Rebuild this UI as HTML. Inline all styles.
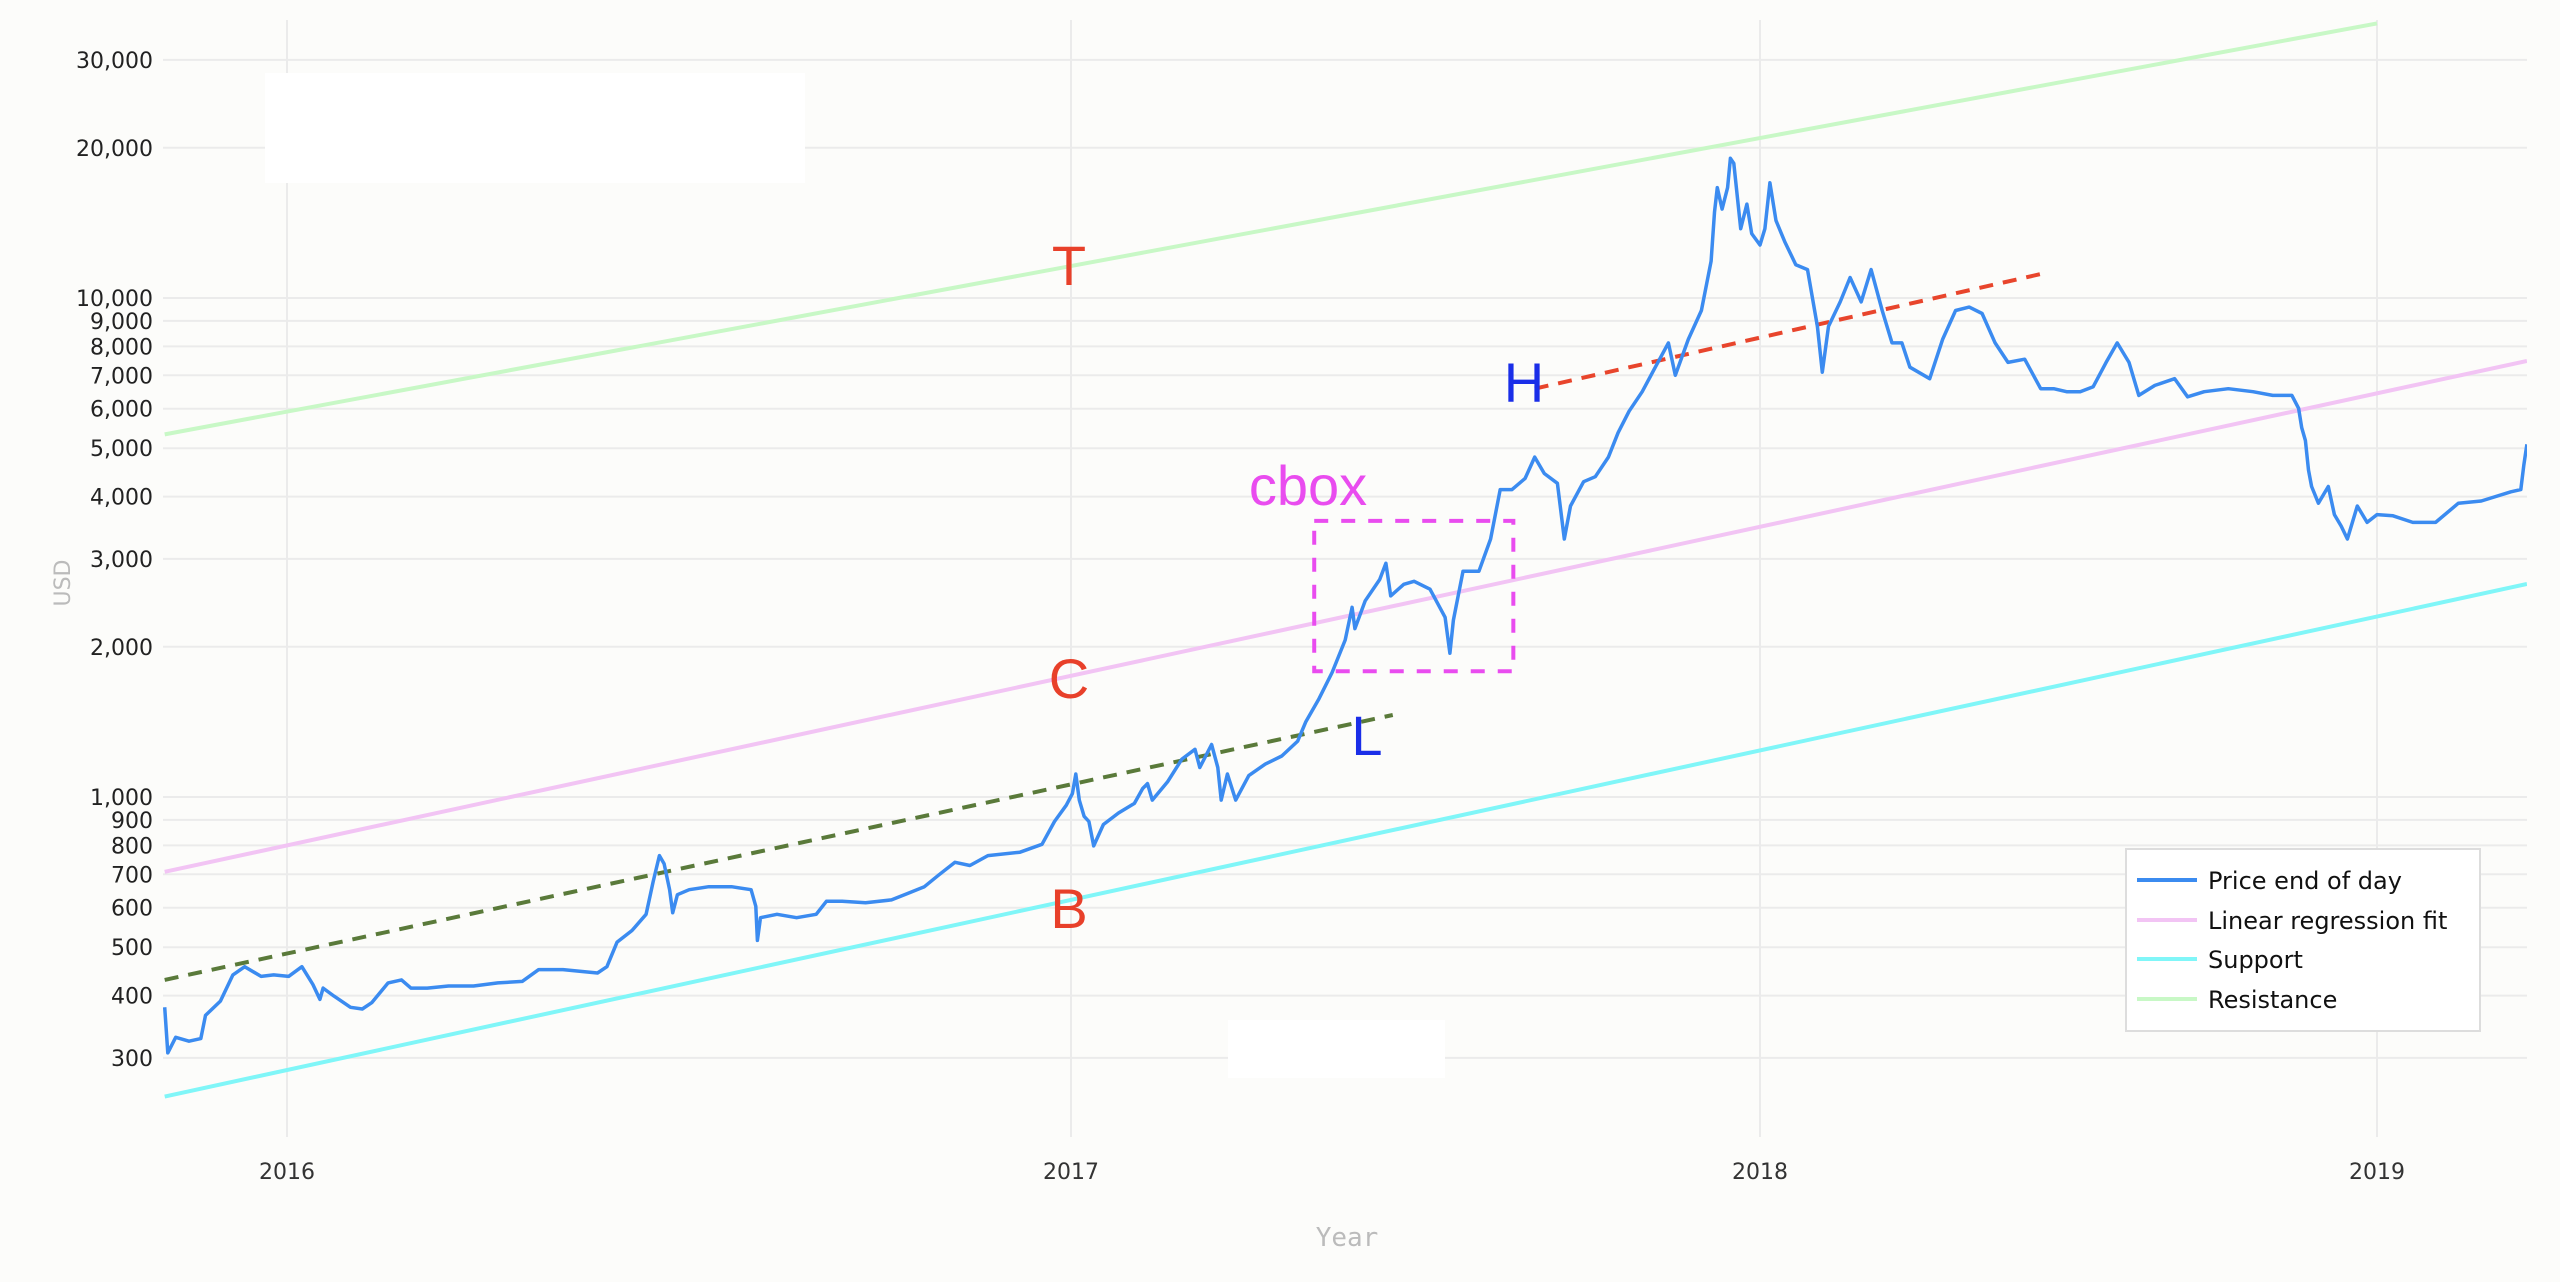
<!DOCTYPE html>
<html><head><meta charset="utf-8"><style>
html,body{margin:0;padding:0;background:#fcfcfa;}
svg{display:block;}
</style></head><body>
<svg id="chart" width="2560" height="1282" viewBox="0 0 2560 1282" xmlns="http://www.w3.org/2000/svg">
<rect x="0" y="0" width="2560" height="1282" fill="#fcfcfa"/>
<defs><clipPath id="plotclip"><rect x="163" y="20" width="2364" height="1117"/></clipPath></defs>
<g id="grid"></g>
<rect x="265" y="73" width="540" height="110" fill="#ffffff"/>
<rect x="1228" y="1020" width="217" height="58" fill="#ffffff"/>
<g id="ylabels"></g>
<g id="xlabels"></g>
<g id="marks" clip-path="url(#plotclip)"></g>
<g id="annot"></g>
<text x="70" y="583" transform="rotate(-90 70 583)" text-anchor="middle" font-family="DejaVu Sans, sans-serif" font-size="22" fill="#bbbbbb">USD</text>
<text x="1347" y="1246" text-anchor="middle" font-family="DejaVu Sans Mono, Liberation Mono, monospace" font-size="26" fill="#bbbbbb">Year</text>
<g>
<rect x="2126" y="849" width="354" height="182" fill="#ffffff" stroke="#dddddd" stroke-width="2"/>
<g><line x1="2137" y1="880" x2="2197" y2="880" stroke="#3b8bf0" stroke-width="4"/><text x="2208" y="889" font-family="DejaVu Sans, sans-serif" font-size="24" fill="#111">Price end of day</text></g>
<g><line x1="2137" y1="920" x2="2197" y2="920" stroke="#f2c4f4" stroke-width="4"/><text x="2208" y="929" font-family="DejaVu Sans, sans-serif" font-size="24" fill="#111">Linear regression fit</text></g>
<g><line x1="2137" y1="959" x2="2197" y2="959" stroke="#80f6f8" stroke-width="4"/><text x="2208" y="968" font-family="DejaVu Sans, sans-serif" font-size="24" fill="#111">Support</text></g>
<g><line x1="2137" y1="999" x2="2197" y2="999" stroke="#c8f8c6" stroke-width="4"/><text x="2208" y="1008" font-family="DejaVu Sans, sans-serif" font-size="24" fill="#111">Resistance</text></g>
</g>
</svg>
<script>
const yTicks = [300,400,500,600,700,800,900,1000,2000,3000,4000,5000,6000,7000,8000,9000,10000,20000,30000];
const yearTicks = [2016,2017,2018,2019];
const yearPix = [287,1071,1760,2377];
const priceYears = [2015.844,2015.848,2015.858,2015.875,2015.890,2015.896,2015.915,2015.931,2015.946,2015.967,2015.983,2016.002,2016.019,2016.033,2016.042,2016.046,2016.060,2016.081,2016.096,2016.108,2016.129,2016.146,2016.158,2016.179,2016.206,2016.238,2016.269,2016.300,2016.321,2016.352,2016.396,2016.408,2016.421,2016.440,2016.458,2016.467,2016.475,2016.481,2016.488,2016.492,2016.498,2016.513,2016.538,2016.567,2016.592,2016.598,2016.600,2016.604,2016.625,2016.650,2016.675,2016.688,2016.708,2016.738,2016.771,2016.792,2016.813,2016.831,2016.852,2016.871,2016.894,2016.935,2016.963,2016.979,2016.994,2017.002,2017.007,2017.012,2017.019,2017.026,2017.033,2017.047,2017.069,2017.092,2017.104,2017.111,2017.118,2017.140,2017.161,2017.180,2017.187,2017.204,2017.213,2017.218,2017.227,2017.239,2017.258,2017.282,2017.306,2017.329,2017.341,2017.360,2017.379,2017.398,2017.408,2017.412,2017.427,2017.448,2017.457,2017.464,2017.483,2017.498,2017.521,2017.543,2017.550,2017.555,2017.569,2017.592,2017.609,2017.623,2017.640,2017.659,2017.673,2017.687,2017.706,2017.716,2017.725,2017.744,2017.761,2017.780,2017.794,2017.810,2017.829,2017.848,2017.867,2017.877,2017.896,2017.915,2017.929,2017.934,2017.938,2017.945,2017.953,2017.957,2017.962,2017.972,2017.981,2017.988,2018.000,2018.008,2018.016,2018.026,2018.040,2018.058,2018.077,2018.093,2018.101,2018.111,2018.130,2018.146,2018.164,2018.180,2018.198,2018.214,2018.230,2018.243,2018.275,2018.296,2018.317,2018.339,2018.360,2018.381,2018.402,2018.429,2018.455,2018.476,2018.497,2018.519,2018.540,2018.561,2018.579,2018.598,2018.614,2018.640,2018.672,2018.693,2018.720,2018.759,2018.799,2018.831,2018.862,2018.873,2018.878,2018.884,2018.889,2018.894,2018.905,2018.921,2018.931,2018.942,2018.952,2018.968,2018.984,2019.000,2019.026,2019.058,2019.095,2019.132,2019.169,2019.217,2019.233,2019.238,2019.243];
const priceValues = [379,307,330,324,328,365,390,440,457,437,440,437,457,421,393,414,399,379,376,387,424,430,414,414,418,418,424,427,451,451,444,457,512,540,582,676,763,735,652,586,637,652,661,661,652,604,516,573,582,573,582,618,618,614,622,641,661,697,740,729,763,775,804,893,963,1016,1112,986,915,893,798,881,929,971,1040,1064,986,1072,1191,1246,1146,1274,1146,986,1112,986,1104,1164,1208,1294,1416,1574,1776,2064,2400,2175,2473,2728,2940,2529,2668,2706,2609,2292,1941,2262,2833,2833,3289,4130,4130,4350,4800,4450,4252,3289,3830,4285,4385,4800,5370,5930,6490,7265,8130,7000,8260,9440,11850,14860,16640,15070,16640,19050,18620,13770,15420,13460,12770,13770,17020,14290,12970,11660,11400,8770,7100,8770,9820,10990,9820,11400,9440,8130,8130,7265,6890,8260,9440,9590,9310,8130,7430,7540,6580,6580,6490,6490,6640,7430,8130,7430,6380,6680,6890,6340,6490,6580,6490,6380,6380,6010,5500,5180,4520,4190,3880,4190,3680,3490,3289,3830,3550,3680,3660,3550,3550,3880,3920,4090,4130,4620,5090];
// straight lines: [startYear, startValue, endYear, endValue]
const resistanceLine = [2015.844, 5330, 2019.0, 35500];
const regressionLine = [2015.844, 708, 2019.243, 7480];
const supportLine = [2015.844, 251, 2019.243, 2672];
const lowTrendLine = [2015.844, 430, 2017.467, 1460];
const highTrendLine = [2017.673, 6580, 2018.455, 11170];
const cboxRange = [2017.353, 3575, 2017.642, 1787];

const NS = 'http://www.w3.org/2000/svg';
function xScale(yr){
  if (yr <= yearTicks[0]) return yearPix[0] + (yr - yearTicks[0]) * (yearPix[1]-yearPix[0]);
  for (let i=0;i<yearTicks.length-1;i++){
    if (yr <= yearTicks[i+1]) return yearPix[i] + (yr-yearTicks[i])*(yearPix[i+1]-yearPix[i]);
  }
  const n = yearTicks.length-1;
  return yearPix[n] + (yr-yearTicks[n])*(yearPix[n]-yearPix[n-1]);
}
function yScale(v){ return 298 + (4 - Math.log10(v)) * 499; }
function mk(tag, attrs, parent){ const e=document.createElementNS(NS,tag); for(const k in attrs) e.setAttribute(k,attrs[k]); parent.appendChild(e); return e; }

const grid=document.getElementById('grid'), yl=document.getElementById('ylabels'), xl=document.getElementById('xlabels');
yTicks.forEach(t=>{
  const y=yScale(t);
  const g=mk('line',{x1:163,x2:2527,y1:y,y2:y,stroke:'#ebebeb','stroke-width':2},grid);
  
  
  const tx=mk('text',{x:153,y:y+8,'text-anchor':'end','font-family':'DejaVu Sans, sans-serif','font-size':22,fill:'#222'},yl);
  tx.textContent=t.toLocaleString('en-US');
  
  
});
yearTicks.forEach(yr=>{
  const x=xScale(yr);
  const g=mk('line',{x1:x,x2:x,y1:20,y2:1137,stroke:'#ebebeb','stroke-width':2},grid);
  
  
  const tx=mk('text',{x:x,y:1179,'text-anchor':'middle','font-family':'DejaVu Sans, sans-serif','font-size':22,fill:'#333'},xl);
  tx.textContent=String(yr);
  
  
});

const marks=document.getElementById('marks');
function seg(arr,color,w,dash,name){
  const l=mk('line',{x1:xScale(arr[0]),y1:yScale(arr[1]),x2:xScale(arr[2]),y2:yScale(arr[3]),stroke:color,'stroke-width':w},marks);
  if(dash) l.setAttribute('stroke-dasharray',dash);
  
  
}
seg(resistanceLine,'#c8f8c6',4,null,'resistance-line');
seg(regressionLine,'#f2c4f4',4,null,'regression-line');
seg(supportLine,'#80f6f8',4,null,'support-line');
seg(lowTrendLine,'#5a7a3a',4,'14 10','low-trend-line');
seg(highTrendLine,'#e8452c',4,'14 10','high-trend-line');

const bx1=xScale(cboxRange[0]), bx2=xScale(cboxRange[2]), by1=yScale(cboxRange[1]), by2=yScale(cboxRange[3]);
const box=mk('rect',{x:bx1,y:by1,width:bx2-bx1,height:by2-by1,fill:'none',stroke:'#e94cef','stroke-width':4,'stroke-dasharray':'14 13'},marks);



let d='';
priceYears.forEach((yr,i)=>{ d+=(i?'L':'M')+xScale(yr).toFixed(1)+','+yScale(priceValues[i]).toFixed(1); });
const p=mk('path',{d:d,fill:'none',stroke:'#3b8bf0','stroke-width':3.5,'stroke-linejoin':'round'},marks);



const annot=document.getElementById('annot');
[['T',1069,285,'#e8402a'],['C',1069,698,'#e8402a'],['B',1069,928,'#e8402a'],['L',1367,755,'#1a2ee8'],['H',1524,402,'#1a2ee8'],['cbox',1308,505,'#e94cef']].forEach(a=>{
  const t=mk('text',{x:a[1],y:a[2],'text-anchor':'middle','font-family':'Liberation Sans, Arial, sans-serif','font-size':56,fill:a[3]},annot);
  t.textContent=a[0];
  
  
});
</script>
</body></html>
